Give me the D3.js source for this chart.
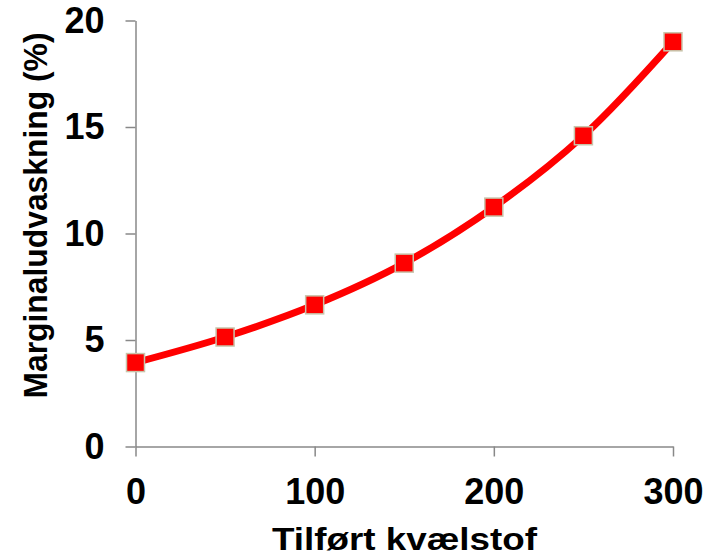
<!DOCTYPE html>
<html><head><meta charset="utf-8">
<script src="https://cdn.jsdelivr.net/npm/d3@7"></script>
<style>body{margin:0;background:#fff}svg{display:block}text{font-family:"Liberation Sans",Arial,sans-serif;font-weight:bold}</style>
</head><body>
<svg id="c" width="710" height="556"></svg>
<script>
const xValues = [0, 50, 100, 150, 200, 250, 300];
const yValues = [3.94, 5.14, 6.65, 8.61, 11.24, 14.59, 19.0];
const xTicks = [0, 100, 200, 300];
const yTicks = [0, 5, 10, 15, 20];
const xTitle = "Tilført kvælstof";
const yTitle = "Marginaludvaskning (%)";

const svg = d3.select("#c");
const x = d3.scaleLinear().domain([0, 300]).range([135.5, 673]);
const y = d3.scaleLinear().domain([0, 20]).range([446.5, 20.5]);

const gx = svg.append("g").attr("transform", `translate(0,${y(0)})`)
  .call(d3.axisBottom(x).tickValues(xTicks).tickSize(10).tickSizeOuter(0).tickPadding(22));
const gy = svg.append("g").attr("transform", `translate(${x(0)},0)`)
  .call(d3.axisLeft(y).tickValues(yTicks).tickSize(10).tickSizeOuter(0).tickPadding(21));
[gx, gy].forEach(g => {
  g.select(".domain").attr("stroke", "#888").attr("stroke-width", 1.5);
  g.selectAll(".tick line").attr("stroke", "#888").attr("stroke-width", 1.5);
  g.selectAll("text").attr("font-size", 36).attr("fill", "#000")
    .style("font-family", "'Liberation Sans',Arial,sans-serif").style("font-weight", "bold");
});
gx.selectAll("text").attr("dy", "0.71em");

const data = xValues.map((v, i) => [v, yValues[i]]);
svg.append("path").datum(data)
  .attr("fill", "none").attr("stroke", "#ff0000").attr("stroke-width", 7)
  .attr("d", d3.line().x(d => x(d[0])).y(d => y(d[1])).curve(d3.curveCatmullRom.alpha(0.5)));

svg.selectAll("rect.m").data(data).enter().append("rect").attr("class", "m")
  .attr("x", d => x(d[0]) - 9).attr("y", d => y(d[1]) - 9)
  .attr("width", 18).attr("height", 18)
  .attr("fill", "#ff0000").attr("stroke", "#c8c4aa").attr("stroke-width", 1.5);

svg.append("text").attr("x", 404.5).attr("y", 550).attr("text-anchor", "middle")
  .attr("font-size", 31).attr("textLength", 265).attr("lengthAdjust", "spacingAndGlyphs").text(xTitle);
svg.append("text").attr("transform", "translate(47,215.5) rotate(-90)").attr("text-anchor", "middle")
  .attr("font-size", 34).attr("textLength", 366).attr("lengthAdjust", "spacingAndGlyphs").text(yTitle);
</script>
</body></html>
